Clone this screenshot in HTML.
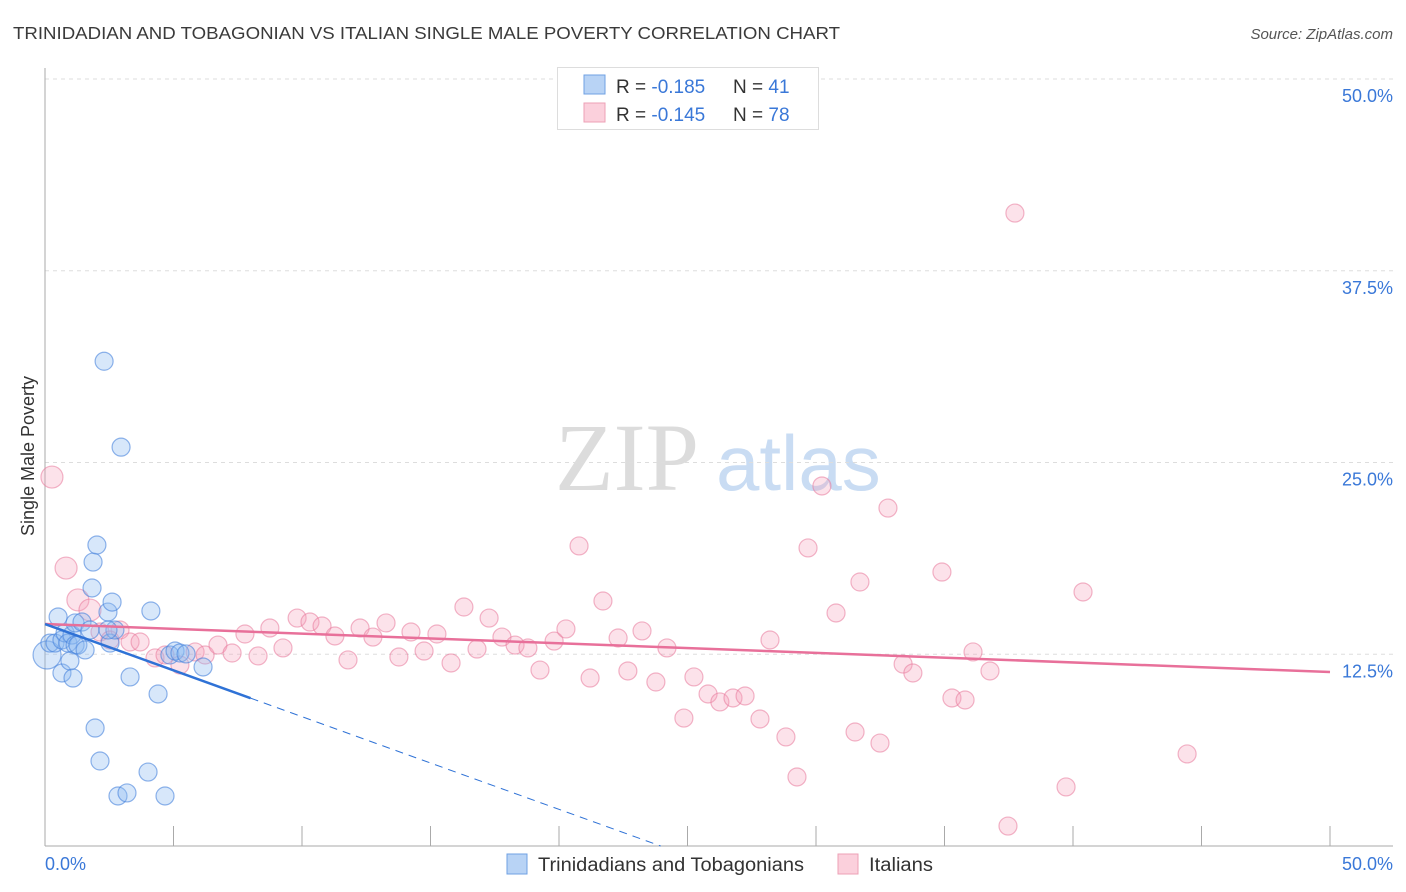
<!DOCTYPE html>
<html><head><meta charset="utf-8"><style>
html,body{margin:0;padding:0;background:#fff;width:1406px;height:892px;overflow:hidden;font-family:"Liberation Sans",sans-serif}
</style></head><body>
<svg id="chart" width="1406" height="892" xmlns="http://www.w3.org/2000/svg" font-family="Liberation Sans, sans-serif">
<text x="13" y="39" font-size="17.5" fill="#3a3a3a" textLength="827" lengthAdjust="spacingAndGlyphs">TRINIDADIAN AND TOBAGONIAN VS ITALIAN SINGLE MALE POVERTY CORRELATION CHART</text>
<text x="1393" y="39" font-size="15" fill="#555" text-anchor="end" font-style="italic">Source: ZipAtlas.com</text>
<g>
<text x="555" y="490" font-family="Liberation Serif, serif" font-size="96" fill="#dcdcdc">ZIP</text>
<text x="716" y="490" font-size="78" fill="#c9dcf3">atlas</text>
</g>
<g id="grid"></g>
<g id="axes"></g>
<g id="pts"></g>
<g id="lines"></g>
<text transform="translate(34,456) rotate(-90)" font-size="18" fill="#333" text-anchor="middle">Single Male Poverty</text>
<g>
<rect x="557.5" y="67.5" width="261" height="62" fill="#fff" stroke="#ddd"/>
<rect x="584" y="75" width="21" height="19" fill="#b8d3f5" stroke="#6fa0e3"/>
<text x="616" y="93" font-size="19" fill="#333">R = <tspan fill="#3a78d8">-0.185</tspan></text>
<text x="733" y="93" font-size="19" fill="#333">N = <tspan fill="#3a78d8">41</tspan></text>
<rect x="584" y="103" width="21" height="19" fill="#fbd0dc" stroke="#eca0b6"/>
<text x="616" y="121" font-size="19" fill="#333">R = <tspan fill="#3a78d8">-0.145</tspan></text>
<text x="733" y="121" font-size="19" fill="#333">N = <tspan fill="#3a78d8">78</tspan></text>
</g>
<g>
<rect x="507" y="854" width="20" height="20" fill="#b8d3f5" stroke="#6fa0e3"/>
<text x="538" y="871" font-size="19" fill="#333" textLength="266" lengthAdjust="spacingAndGlyphs">Trinidadians and Tobagonians</text>
<rect x="838" y="854" width="20" height="20" fill="#fbd0dc" stroke="#eca0b6"/>
<text x="869" y="871" font-size="19" fill="#333" textLength="64" lengthAdjust="spacingAndGlyphs">Italians</text>
</g>
</svg>
<script>
const yTicks=[12.5,25,37.5,50];
const yTickLabels=["12.5%","25.0%","37.5%","50.0%"];
const xTickLabels=["0.0%","50.0%"];
const blueX=[0.08,0.19,0.39,0.51,0.66,0.78,0.89,1.05,1.17,0.66,0.97,1.09,1.17,1.28,1.44,1.56,1.75,1.83,1.87,2.02,2.3,2.45,2.53,2.61,2.72,2.96,1.95,2.14,2.84,3.19,3.31,4.01,4.12,4.4,4.67,4.86,5.06,5.25,5.49,6.15,2.45];
const blueY=[12.45,13.23,13.23,14.93,13.43,13.89,13.23,13.75,13.1,11.28,12.06,10.95,14.54,13.1,14.6,12.78,14.08,16.82,18.51,19.62,31.6,15.25,13.23,15.9,14.08,26.0,7.69,5.54,3.26,3.46,11.02,4.82,15.32,9.91,3.26,12.45,12.71,12.58,12.52,11.67,14.08];
const pinkX=[0.27,0.82,1.28,1.75,2.14,2.53,2.92,3.31,3.70,4.28,4.67,5.25,5.84,6.23,6.73,7.28,7.78,8.29,8.75,9.26,9.81,10.31,10.78,11.28,11.79,12.26,12.76,13.27,13.77,14.24,14.75,15.25,15.80,16.30,16.81,17.28,17.78,18.29,18.79,19.26,19.81,20.27,20.78,21.21,21.71,22.30,22.68,23.23,23.77,24.20,24.86,25.25,25.80,26.26,26.77,27.24,27.82,28.21,28.83,29.26,29.69,30.23,30.78,31.52,31.71,32.49,32.80,33.39,33.77,34.90,35.29,35.80,36.11,36.77,37.47,37.74,39.73,40.39,44.44];
const pinkY=[24.05,18.12,16.04,15.38,13.95,13.43,14.08,13.30,13.30,12.26,12.45,11.80,12.65,12.45,13.10,12.58,13.82,12.39,14.21,12.91,14.86,14.60,14.34,13.69,12.13,14.21,13.62,14.54,12.32,13.95,12.71,13.82,11.93,15.58,12.84,14.86,13.62,13.10,12.91,11.47,13.36,14.15,19.56,10.95,15.97,13.56,11.41,14.02,10.69,12.91,8.34,11.02,9.91,9.39,9.65,9.78,8.28,13.43,7.11,4.50,19.43,23.47,15.19,7.43,17.21,6.71,22.03,11.86,11.28,17.86,9.65,9.52,12.65,11.41,1.30,41.26,3.85,16.56,6.00];
const blueTrend=[14.47,-0.604];
const pinkTrend=[14.47,-0.0626];
const NS="http://www.w3.org/2000/svg";
const X=v=>45+v/50*1285, Y=v=>846-v/50*767;
function mk(tag,attrs,parent){const e=document.createElementNS(NS,tag);for(const k in attrs)e.setAttribute(k,attrs[k]);document.getElementById(parent).appendChild(e);return e;}
yTicks.forEach((t,i)=>{
 const g=mk('line',{x1:45,x2:1393,y1:Y(t),y2:Y(t),stroke:'#ddd','stroke-dasharray':'4,4'},'grid');
 
 
 const tx=mk('text',{x:1393,y:Y(t)+23,'font-size':18,fill:'#3a78d8','text-anchor':'end'},'axes');
 tx.textContent=yTickLabels[i];
 
 
});
const ya=mk('line',{x1:45,x2:45,y1:68,y2:846,stroke:'#aaa'},'axes');


const xa=mk('line',{x1:45,x2:1393,y1:846,y2:846,stroke:'#aaa'},'axes');


for(let i=1;i<=10;i++){
 const t=mk('line',{x1:X(i*5),x2:X(i*5),y1:826,y2:846,stroke:'#aaa'},'axes');
 
 
}
const xl0=mk('text',{x:45,y:870,'font-size':18,fill:'#3a78d8'},'axes');xl0.textContent=xTickLabels[0];


const xl1=mk('text',{x:1393,y:870,'font-size':18,fill:'#3a78d8','text-anchor':'end'},'axes');xl1.textContent=xTickLabels[1];


pinkX.forEach((x,i)=>{
 const c=mk('circle',{cx:X(x),cy:Y(pinkY[i]),r:i<4?11:9,fill:'rgba(246,160,185,0.3)',stroke:'rgba(232,120,155,0.55)','stroke-width':1.2},'pts');
 
 
});
blueX.forEach((x,i)=>{
 const c=mk('circle',{cx:X(x),cy:Y(blueY[i]),r:i==0?14:9,fill:'rgba(140,185,240,0.35)',stroke:'rgba(70,130,220,0.6)','stroke-width':1.2},'pts');
 
 
});
const pl=mk('line',{x1:X(0),y1:Y(pinkTrend[0]),x2:X(50),y2:Y(pinkTrend[0]+pinkTrend[1]*50),stroke:'#e8709a','stroke-width':2.5},'lines');


const bl=mk('line',{x1:X(0),y1:Y(blueTrend[0]),x2:X(8),y2:Y(blueTrend[0]+blueTrend[1]*8),stroke:'#2f72d6','stroke-width':2.5},'lines');


const xe=-blueTrend[0]/blueTrend[1];
const bd=mk('line',{x1:X(8),y1:Y(blueTrend[0]+blueTrend[1]*8),x2:X(xe),y2:Y(0),stroke:'#2f72d6','stroke-width':1,'stroke-dasharray':'8,6'},'lines');


</script>
</body></html>
